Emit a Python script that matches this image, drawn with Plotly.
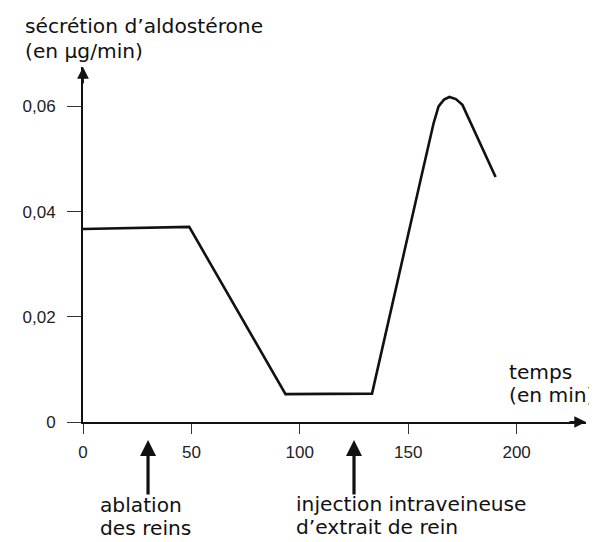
import plotly.graph_objects as go

# Data
temps = [0, 49, 93.4, 133.3, 155.7, 158.8, 161.7, 164, 166.5, 169, 172, 175, 179.6, 190.3]
secretion = [0.0367, 0.0371, 0.0053, 0.0054, 0.0460, 0.0517, 0.0568, 0.0600, 0.0613, 0.0618, 0.0614, 0.0603, 0.0561, 0.0466]

x_ticks = [0, 50, 100, 150, 200]
x_ticktext = ["0", "50", "100", "150", "200"]
y_ticks = [0, 0.02, 0.04, 0.06]
y_ticktext = ["0", "0,02", "0,04", "0,06"]

event_times = [30, 125]

# text lines: (text, left x px, centre y px) in page pixels
text_lines = [
    ("sécrétion d\u2019aldostérone", 22.5, 26),
    ("(en µg/min)", 22.5, 51),
    ("temps", 507, 372),
    ("(en min)", 507, 395),
    ("ablation", 98.5, 505),
    ("des reins", 98.5, 527.5),
    ("injection intraveineuse", 294, 504),
    ("d\u2019extrait de rein", 294, 527),
]

x_max = 232
y_max = 0.0675

# page layout (the html body adds an 8px offset)
OFF = 8
PL, PT, PW, PH = 83, 67, 503.3, 355  # plot area in page pixels
W, H = 597, 542


def px(xp):
    return (xp - PL) / PW


def py(yp):
    return (PT + PH - yp) / PH


TXT = dict(family="DejaVu Sans", size=20.2, color="#111")
TICK = dict(family="Liberation Sans", size=17, color="#222")

fig = go.Figure()
fig.add_trace(go.Scatter(x=temps, y=secretion, mode="lines",
                         line=dict(color="#111", width=2.6), showlegend=False,
                         hoverinfo="skip"))

annotations = []
# axis arrowheads
annotations.append(dict(x=x_max, y=0, xref="x", yref="y", ax=-18, ay=0, text="",
                        showarrow=True, arrowhead=2, arrowsize=1.3, arrowwidth=1.8,
                        arrowcolor="#111"))
annotations.append(dict(x=0, y=y_max, xref="x", yref="y", ax=0, ay=18, text="",
                        showarrow=True, arrowhead=2, arrowsize=1.3, arrowwidth=1.8,
                        arrowcolor="#111"))
# event arrows (below the x axis)
for t in event_times:
    annotations.append(dict(x=t, y=py(440), xref="x", yref="paper", ax=0, ay=56, text="",
                            showarrow=True, arrowhead=2, arrowsize=1.0, arrowwidth=3.2,
                            arrowcolor="#111"))
for txt, lx, cy in text_lines:
    annotations.append(dict(x=px(lx), y=py(cy), xref="paper", yref="paper", text=txt,
                            showarrow=False, xanchor="left", yanchor="middle",
                            font=TXT))

fig.update_layout(
    width=W, height=H,
    margin=dict(l=PL - OFF, r=W - (PL - OFF) - PW, t=PT - OFF, b=H - (PT - OFF) - PH),
    paper_bgcolor="white", plot_bgcolor="white",
    annotations=annotations,
    xaxis=dict(range=[0, x_max], showgrid=False, zeroline=False,
               showline=True, linecolor="#111", linewidth=1.8,
               tickmode="array", tickvals=x_ticks, ticktext=x_ticktext,
               ticks="outside", ticklen=10, tickwidth=1.2, tickcolor="#333",
               tickfont=TICK, ticklabelstandoff=4),
    yaxis=dict(range=[0, y_max], showgrid=False, zeroline=False,
               showline=True, linecolor="#111", linewidth=1.8,
               tickmode="array", tickvals=y_ticks, ticktext=y_ticktext,
               ticks="outside", ticklen=14, tickwidth=1.2, tickcolor="#333",
               tickfont=TICK, ticklabelstandoff=8),
)

fig.write_html("out.html")
